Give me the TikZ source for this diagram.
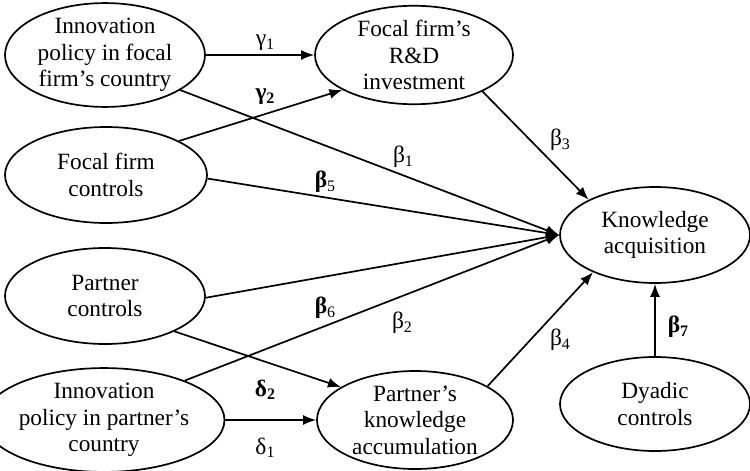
\documentclass[tikz,border=0pt]{standalone}
\usepackage{fontspec}
\setmainfont{Liberation Serif}
\usetikzlibrary{shapes.geometric,arrows.meta}
\newcommand{\sbs}[1]{\raisebox{-0.3ex}{\fontsize{16}{16}\selectfont #1}}
\tikzset{
  var/.style={ellipse, draw, line width=1.7pt, inner sep=0pt, align=center,
    font=\fontsize{23.3}{26.5}\selectfont},
  path/.style={line width=1.7pt, -{Latex[length=13pt,width=10pt]}},
  lab/.style={font=\fontsize{23.5}{26}\selectfont, inner sep=0pt}
}
\begin{document}
\begin{tikzpicture}[x=1pt,y=-1pt]
\useasboundingbox (0,0) rectangle (750,471);
% nodes
\node[var, minimum width=200pt, minimum height=96pt] (inf) at (105,55) {Innovation\\policy in focal\\firm’s country};
\node[var, minimum width=202pt, minimum height=96pt] (fc) at (106,175) {Focal firm\\controls};
\node[var, minimum width=198pt, minimum height=98pt] (rd) at (414,55) {Focal firm’s\\R\&D\\investment};
\node[var, minimum width=190pt, minimum height=96pt] (ka) at (655,235) {Knowledge\\acquisition};
\node[var, minimum width=200pt, minimum height=96pt] (pc) at (105,296) {Partner\\controls};
\node[var, minimum width=198pt, minimum height=96pt] (ipp) at (104,420) {Innovation\\policy in partner’s\\country};
\node[var, minimum width=196pt, minimum height=98pt] (pka) at (415,420) {Partner’s\\knowledge\\accumulation};
\node[var, minimum width=190pt, minimum height=94pt] (dy) at (655,404) {Dyadic\\controls};
% connectors
\draw[path] (inf) -- (rd);
\draw[path] (fc.25) -- (rd.206);
\draw[path] (inf.-25) -- (ka.west);
\draw[path] (fc.-2) -- (ka.west);
\draw[path] (pc.-1) -- (ka.west);
\draw[path] (ipp.26) -- (ka.west);
\draw[path] (rd.-28) -- (ka.152);
\draw[path] (pc.-27) -- (pka.156);
\draw[path] (ipp) -- (pka);
\draw[path] (pka.25) -- (ka.211);
\draw[path] (dy.north) -- (ka.south);
% labels
\node[lab] (g1) at (265,43) {γ\sbs{1}};
\node[lab] (g2) at (265,97) {\textbf{γ\sbs{2}}};
\node[lab] (b5) at (325,182) {\textbf{β}\sbs{5}};
\node[lab] (b1) at (403,157) {β\sbs{1}};
\node[lab] (b3) at (560,140) {β\sbs{3}};
\node[lab] (b6) at (325,308) {\textbf{β}\sbs{6}};
\node[lab] (b2) at (402,323) {β\sbs{2}};
\node[lab] (d2) at (265,390) {\textbf{δ\sbs{2}}};
\node[lab] (d1) at (265,448) {δ\sbs{1}};
\node[lab] (b4) at (560,340) {β\sbs{4}};
\node[lab] (b7) at (678,327) {\textbf{β\sbs{7}}};
\end{tikzpicture}
\end{document}
